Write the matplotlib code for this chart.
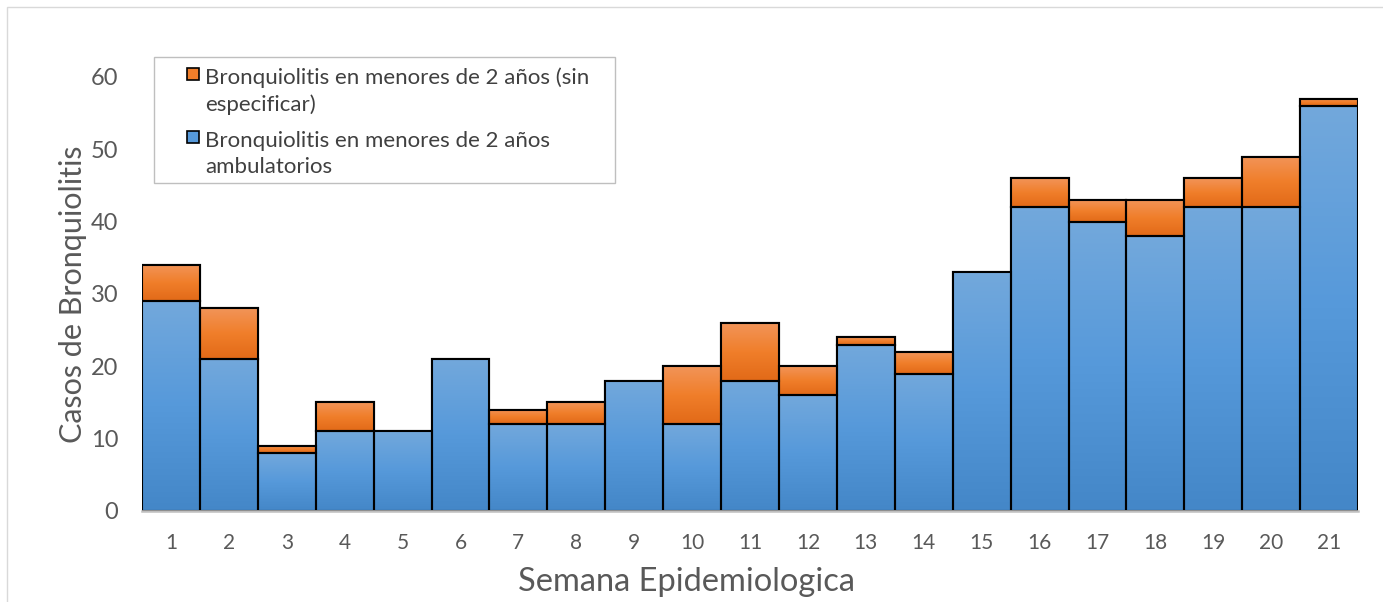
import numpy as np
import matplotlib
matplotlib.use("Agg")
import matplotlib.pyplot as plt
from matplotlib.patches import Patch, Rectangle
from matplotlib.legend_handler import HandlerPatch
from matplotlib.colors import LinearSegmentedColormap

weeks = [str(i) for i in range(1, 22)]
ambulatorios = [29, 21, 8, 11, 11, 21, 12, 12, 18, 12, 18, 16, 23, 19, 33, 42, 40, 38, 42, 42, 56]
sin_especificar = [5, 7, 1, 4, 0, 0, 2, 3, 0, 8, 8, 4, 1, 3, 0, 4, 3, 5, 4, 7, 1]
yticks = [0, 10, 20, 30, 40, 50, 60]

label_orange = "Bronquiolitis en menores de 2 años (sin\nespecificar)"
label_blue = "Bronquiolitis en menores de 2 años\nambulatorios"

blue_top, blue_mid, blue_bot = "#72A8DC", "#5699DA", "#4487C8"
orng_top, orng_mid, orng_bot = "#F29458", "#F07E2A", "#E26A18"

fig = plt.figure(figsize=(13.83, 6.02), dpi=100)
ax = fig.add_axes([0.1027, 0.1512, 0.8793, 0.7209])

x = np.arange(len(weeks))
b1 = ax.bar(x, ambulatorios, width=1.0, color=blue_mid, edgecolor="black", linewidth=1.5, zorder=2)
b2 = ax.bar(x, sin_especificar, bottom=ambulatorios, width=1.0, color=orng_mid,
            edgecolor="black", linewidth=1.5, zorder=2)

grad = np.linspace(1, 0, 64).reshape(-1, 1)
cmap_b = LinearSegmentedColormap.from_list("b", [blue_bot, blue_mid, blue_top])
cmap_o = LinearSegmentedColormap.from_list("o", [orng_bot, orng_mid, orng_top])
for bars, cmap in ((b1, cmap_b), (b2, cmap_o)):
    for p in bars:
        h = p.get_height()
        if h <= 0:
            p.set_visible(False)
            continue
        x0, y0 = p.get_x(), p.get_y()
        im = ax.imshow(grad, extent=[x0, x0 + p.get_width(), y0, y0 + h], cmap=cmap,
                       aspect="auto", origin="upper", zorder=2.5, vmin=0, vmax=1,
                       interpolation="bilinear")
        im.set_clip_path(p)
        edge = Rectangle((x0, y0), p.get_width(), h, fill=False, edgecolor="black",
                         linewidth=1.5, zorder=3)
        ax.add_patch(edge)

ax.set_xlim(-0.5, len(weeks) - 0.5)
ax.set_ylim(0, 60)
ax.set_xticks(x)
ax.set_xticklabels(weeks, fontfamily="Lato", fontsize=15, color="#595959")
ax.set_yticks(yticks)
ax.set_yticklabels([str(v) for v in yticks], fontfamily="Lato",
                   fontsize=17, color="#595959")
ax.tick_params(axis="both", length=0)
ax.tick_params(axis="x", pad=16)
ax.tick_params(axis="y", pad=17)
for s in ("top", "right", "left"):
    ax.spines[s].set_visible(False)
ax.spines["bottom"].set_color("#BFBFBF")
ax.spines["bottom"].set_linewidth(1.8)
ax.spines["bottom"].set_zorder(4)

ax.set_ylabel("Casos de Bronquiolitis", fontsize=22, color="#595959", labelpad=3,
              fontfamily="Lato")
ax.set_xlabel("Semana Epidemiologica", fontsize=23.5, color="#595959", labelpad=10,
              fontfamily="Lato", x=0.448)

SQ = 8.6      # legend square size (points)
LINE_UP = 14  # offset of the marker above the last-line baseline (points)


def top_square(legend, orig_handle, xdescent, ydescent, width, height, fontsize):
    return Rectangle((-xdescent, LINE_UP), SQ, SQ)


handles = [Patch(facecolor=orng_mid, edgecolor="black", linewidth=1.2),
           Patch(facecolor=blue_mid, edgecolor="black", linewidth=1.2)]
leg = ax.legend(handles, [label_orange, label_blue], loc="upper left",
                bbox_to_anchor=(0.033, 1.032), prop={"family": "Lato", "size": 16},
                frameon=False, handlelength=0.54, handleheight=0.6, handletextpad=0.3,
                borderpad=0.2, labelspacing=0.74, borderaxespad=0,
                handler_map={Patch: HandlerPatch(patch_func=top_square)})
for t in leg.get_texts():
    t.set_color("#404040")
    t.set_linespacing(1.37)
leg.set_zorder(6)

fig.canvas.draw()
bb = leg.get_window_extent()
W, H = fig.bbox.width, fig.bbox.height
box = Rectangle(((bb.x0 - 28) / W, (bb.y0 - 1.5) / H),
                (bb.width + 49) / W, (bb.height + 7.5) / H,
                transform=fig.transFigure, facecolor="white",
                edgecolor="#BFBFBF", linewidth=1.0, zorder=5, clip_on=False)
ax.add_artist(box)
fig.patches.append(Rectangle((7 / W, -0.05), 1.1, 1 - 7 / H + 0.05,
                             transform=fig.transFigure, fill=False,
                             edgecolor="#D9D9D9", linewidth=1.0))

fig.savefig("out.png", dpi=100)
